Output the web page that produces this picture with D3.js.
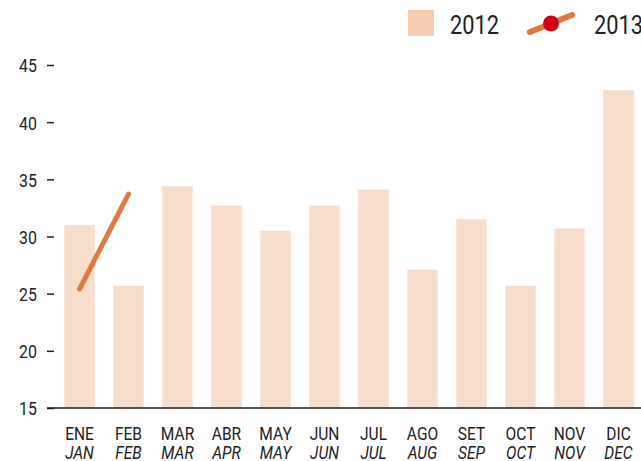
<!DOCTYPE html>
<html>
<head>
<meta charset="utf-8">
<script src="https://cdn.jsdelivr.net/npm/d3@7"></script>
<style>
  body { margin: 0; background: #fff; }
  svg text { font-family: "Roboto", "Liberation Sans", sans-serif; fill: #222; }
</style>
</head>
<body>
<div id="chart"></div>
<script>
// data
months_es = ['ENE','FEB','MAR','ABR','MAY','JUN','JUL','AGO','SET','OCT','NOV','DIC']
months_en = ['JAN','FEB','MAR','APR','MAY','JUN','JUL','AUG','SEP','OCT','NOV','DEC']
values2012 = [31.0, 25.7, 34.4, 32.7, 30.5, 32.7, 34.1, 27.1, 31.5, 25.7, 30.7, 42.8]
values2013 = [25.4, 33.7]
yTicks = [15, 20, 25, 30, 35, 40, 45]

svgWidth = 641
svgHeight = 461
squeeze = 0.84   // condensed look, no narrow font installed

svg = d3.select('#chart')
        .append('svg')
        .attr('width', svgWidth)
        .attr('height', svgHeight)

xScale = d3.scaleBand()
           .domain(months_es)
           .range([55, 643])
           .paddingInner(0.38)
           .paddingOuter(0.19)

yScale = d3.scaleLinear()
           .domain([15, 45])
           .range([408, 65])

// bars 2012
svg.selectAll('rect.bar')
   .data(values2012)
   .enter()
   .append('rect')
   .attr('class', 'bar')
   .attr('x', (d, i) => xScale(months_es[i]))
   .attr('y', d => yScale(d))
   .attr('width', xScale.bandwidth())
   .attr('height', d => yScale(15) - yScale(d))
   .attr('fill', '#f6ddcc')

// left axis
leftAxis = d3.axisLeft(yScale)
             .tickValues(yTicks)
             .tickSize(7)
             .tickPadding(10)

yAxis = svg.append('g')
           .attr('transform', 'translate(54,0)')
           .call(leftAxis)
yAxis.select('.domain').remove()
yAxis.selectAll('line').attr('stroke', '#222').attr('stroke-width', 1.5)
yAxis.selectAll('text')
     .attr('x', -17 / squeeze)
     .attr('dy', '0.36em')
     .attr('transform', `scale(${squeeze},1)`)
     .style('font-size', '19px')
     .style('font-family', '"Roboto", sans-serif')
     .attr('fill', '#222')

// baseline
svg.append('line')
   .attr('x1', 47)
   .attr('x2', 641)
   .attr('y1', yScale(15))
   .attr('y2', yScale(15))
   .attr('stroke', '#222')
   .attr('stroke-width', 1.5)

// month labels
labels = svg.selectAll('g.mlabel')
            .data(months_es)
            .enter()
            .append('g')
            .attr('class', 'mlabel')
            .attr('transform', d => `translate(${xScale(d) + xScale.bandwidth() / 2},0) scale(${squeeze},1)`)

labels.append('text')
      .attr('y', 440.5)
      .attr('text-anchor', 'middle')
      .style('font-size', '18.5px')
      .text(d => d)

labels.append('text')
      .attr('y', 459)
      .attr('text-anchor', 'middle')
      .style('font-size', '18.5px')
      .style('font-style', 'italic')
      .text((d, i) => months_en[i])

// line 2013
line = d3.line()
         .x((d, i) => xScale(months_es[i]) + xScale.bandwidth() / 2)
         .y(d => yScale(d))

svg.append('path')
   .datum(values2013)
   .attr('d', line)
   .attr('fill', 'none')
   .attr('stroke', '#e07a44')
   .attr('stroke-width', 5)
   .attr('stroke-linecap', 'round')

// legend
svg.append('rect')
   .attr('x', 408)
   .attr('y', 10)
   .attr('width', 26)
   .attr('height', 26)
   .attr('fill', '#f5cdb0')

svg.append('text')
   .attr('transform', `translate(450,34) scale(${squeeze},1)`)
   .style('font-size', '26px')
   .text('2012')

svg.append('line')
   .attr('x1', 530)
   .attr('y1', 32)
   .attr('x2', 572)
   .attr('y2', 15)
   .attr('stroke', '#e07a44')
   .attr('stroke-width', 6)
   .attr('stroke-linecap', 'round')

svg.append('circle')
   .attr('cx', 551)
   .attr('cy', 23.5)
   .attr('r', 8)
   .attr('fill', '#d0021b')

svg.append('text')
   .attr('transform', `translate(594,34) scale(${squeeze},1)`)
   .style('font-size', '26px')
   .text('2013')
</script>
</body>
</html>
